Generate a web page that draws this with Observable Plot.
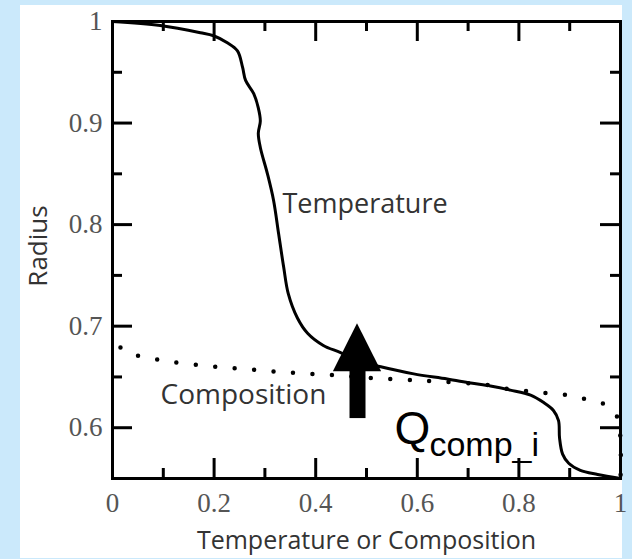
<!DOCTYPE html>
<html>
<head>
<meta charset="utf-8">
<script src="https://cdn.jsdelivr.net/npm/d3@7"></script>
<script src="https://cdn.jsdelivr.net/npm/@observablehq/plot@0.6"></script>
<style>
  html, body { margin: 0; padding: 0; background: #cbe9fb; width: 632px; height: 559px; overflow: hidden; }
  #chart { position: absolute; left: 20px; top: 5px; }
  #chart svg { background: #fff; overflow: visible; }
</style>
</head>
<body>
<div id="chart"></div>
<script>
// Temperature profile: normalised temperature vs. radius
const tempX = [0, 0.094, 0.173, 0.199, 0.226, 0.246, 0.256, 0.262, 0.278, 0.287, 0.291, 0.287, 0.291,
  0.305, 0.317, 0.327, 0.337, 0.346, 0.364, 0.384, 0.415, 0.449, 0.482, 0.528, 0.593, 0.659, 0.705,
  0.744, 0.783, 0.823, 0.848, 0.868, 0.878, 0.880, 0.886, 0.898, 0.921, 0.955, 1.0];
const tempR = [1.0, 0.996, 0.989, 0.986, 0.979, 0.971, 0.955, 0.942, 0.929, 0.915, 0.902, 0.890, 0.876,
  0.850, 0.824, 0.791, 0.758, 0.732, 0.708, 0.693, 0.681, 0.674, 0.666, 0.660, 0.653, 0.648, 0.644,
  0.641, 0.637, 0.632, 0.625, 0.617, 0.607, 0.590, 0.574, 0.565, 0.558, 0.554, 0.550];

// Composition profile
const compX = [0, 0.016, 0.049, 0.089, 0.128, 0.203, 0.280, 0.356, 0.433, 0.510, 0.589, 0.626,
  0.740, 0.780, 0.817, 0.856, 0.896, 0.933, 0.969, 0.994, 1.0, 1.0];
const compR = [0.682, 0.679, 0.671, 0.667, 0.664, 0.660, 0.657, 0.654, 0.652, 0.649, 0.647, 0.646,
  0.642, 0.638, 0.636, 0.634, 0.632, 0.628, 0.623, 0.610, 0.587, 0.550];

// Axis ticks
const xMajor = [0, 0.2, 0.4, 0.6, 0.8, 1];
const xMinor = [0.1, 0.3, 0.5, 0.7, 0.9];
const yMajor = [0.6, 0.7, 0.8, 0.9, 1];
const yMinor = [0.65, 0.75, 0.85, 0.95];

// Heat-flux arrow (Q_comp_i) in data units
const arrowX = 0.4823;
const arrowTail = 0.609;
const arrowBase = 0.6552;
const arrowTip = 0.7025;
const arrowHalf = 0.0475;

const temperature = tempX.map((x, i) => ({x, r: tempR[i]}));
const composition = compX.map((x, i) => ({x, r: compR[i]}));
const head = [
  {x: arrowX - arrowHalf, y1: arrowBase, y2: arrowBase},
  {x: arrowX, y1: arrowBase, y2: arrowTip},
  {x: arrowX + arrowHalf, y1: arrowBase, y2: arrowBase}
];

const W = 602, H = 553, mL = 92, mR = 2, mT = 16, mB = 80;
const plotW = W - mL - mR, plotH = H - mT - mB;
const major = 20, minor = 10, tw = 3;
const sans = "Open Sans", serif = "Liberation Serif";

const chart = Plot.plot({
  width: W, height: H,
  marginLeft: mL, marginRight: mR, marginTop: mT, marginBottom: mB,
  x: {domain: [0, 1]},
  y: {domain: [0.55, 1]},
  marks: [
    Plot.line(composition, {x: "x", y: "r", stroke: "black", strokeWidth: 4.5,
      strokeDasharray: "0 19.5", strokeLinecap: "round", strokeDashoffset: 11, curve: "catmull-rom"}),
    Plot.line(temperature, {x: "x", y: "r", stroke: "black", strokeWidth: 3, curve: "catmull-rom"}),
    Plot.ruleX([arrowX], {x: d => d, y1: arrowTail, y2: arrowBase + 0.002, stroke: "black", strokeWidth: 16}),
    Plot.areaY(head, {x: "x", y1: "y1", y2: "y2", fill: "black", curve: "linear"}),

    Plot.text(["Temperature"], {x: 0.3346, y: 0.811, text: d => d, textAnchor: "start", lineAnchor: "bottom",
      fontSize: 27, fontFamily: sans, fill: "#333"}),
    Plot.text(["Composition"], {x: 0.0945, y: 0.6236, text: d => d, textAnchor: "start", lineAnchor: "bottom",
      fontSize: 28, fontFamily: sans, fill: "#333"}),
    Plot.text(["Q"], {x: 0.555, y: 0.5842, text: d => d, textAnchor: "start", lineAnchor: "bottom",
      fontSize: 46, fontFamily: "Liberation Sans", fill: "black"}),
    Plot.text(["comp_i"], {x: 0.555, y: 0.5842, text: d => d, textAnchor: "start", lineAnchor: "bottom",
      dx: 35, dy: 12, fontSize: 34, fontFamily: "Liberation Sans", fill: "black"}),

    // inward ticks on all four sides
    Plot.tickX(xMajor, {x: d => d, insetTop: plotH - major, strokeWidth: tw}),
    Plot.tickX(xMinor, {x: d => d, insetTop: plotH - minor, strokeWidth: tw}),
    Plot.tickX(xMajor, {x: d => d, insetBottom: plotH - major, strokeWidth: tw}),
    Plot.tickX(xMinor, {x: d => d, insetBottom: plotH - minor, strokeWidth: tw}),
    Plot.tickY(yMajor, {y: d => d, insetRight: plotW - major, strokeWidth: tw}),
    Plot.tickY(yMinor, {y: d => d, insetRight: plotW - minor, strokeWidth: tw}),
    Plot.tickY(yMajor, {y: d => d, insetLeft: plotW - major, strokeWidth: tw}),
    Plot.tickY(yMinor, {y: d => d, insetLeft: plotW - minor, strokeWidth: tw}),
    Plot.frame({stroke: "black", strokeWidth: tw}),

    Plot.axisX(xMajor, {tickSize: 0, tickPadding: 14, label: null, tickFormat: d => String(d),
      fontSize: 27, fontFamily: serif, fill: "#555"}),
    Plot.axisY(yMajor, {tickSize: 0, tickPadding: 10, label: null, tickFormat: d => String(d),
      fontSize: 27, fontFamily: serif, fill: "#555"}),
    Plot.text(["Temperature or Composition"], {frameAnchor: "bottom", dy: 70, lineAnchor: "bottom",
      text: d => d, fontSize: 25, fontFamily: sans, fill: "#333"}),
    Plot.text(["Radius"], {frameAnchor: "left", dx: -74, dy: -4, rotate: -90, textAnchor: "middle",
      text: d => d, fontSize: 26, fontFamily: sans, fill: "#333"})
  ]
});
document.getElementById("chart").appendChild(chart);
</script>
</body>
</html>
